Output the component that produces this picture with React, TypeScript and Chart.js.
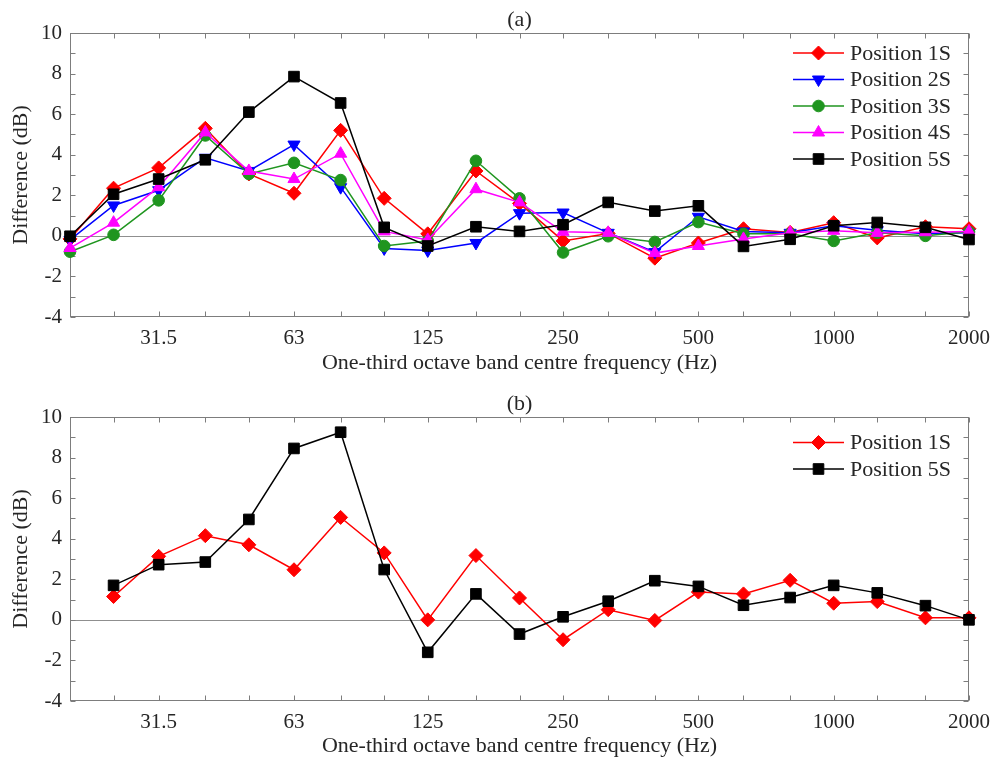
import React, { useEffect, useRef } from 'react';
import { Chart, registerables } from 'chart.js';
import { drawPoint } from 'chart.js/helpers';

Chart.register(...registerables);

// One-third octave band centre frequencies (Hz)
const bandsA = [20, 25, 31.5, 40, 50, 63, 80, 100, 125, 160, 200, 250, 315, 400, 500, 630, 800, 1000, 1250, 1600, 2000];
const bandsB = [25, 31.5, 40, 50, 63, 80, 100, 125, 160, 200, 250, 315, 400, 500, 630, 800, 1000, 1250, 1600, 2000];
const labelledFreqs = [31.5, 63, 125, 250, 500, 1000, 2000];
const yMin = -4;
const yMax = 10;

// Panel (a): level differences (dB) per source position
const pos1S_a = [-0.15, 2.35, 3.35, 5.3, 3.05, 2.1, 5.2, 1.85, 0.1, 3.2, 1.6, -0.25, 0.12, -1.1, -0.35, 0.35, 0.17, 0.65, -0.1, 0.45, 0.35];
const pos2S_a = [-0.2, 1.5, 2.25, 3.85, 3.2, 4.5, 2.4, -0.62, -0.72, -0.35, 1.12, 1.15, 0.15, -0.8, 0.94, 0.22, 0.15, 0.5, 0.28, 0.1, 0.15];
const pos3S_a = [-0.78, 0.05, 1.75, 4.95, 3.05, 3.6, 2.75, -0.5, -0.25, 3.7, 1.85, -0.82, -0.02, -0.3, 0.68, 0.1, 0.1, -0.25, 0.15, 0.0, 0.2];
const pos4S_a = [-0.6, 0.65, 2.4, 5.1, 3.2, 2.8, 4.05, 0.22, -0.2, 2.3, 1.65, 0.2, 0.15, -0.85, -0.5, -0.15, 0.15, 0.25, 0.15, 0.18, 0.22];
const pos5S_a = [-0.02, 2.05, 2.8, 3.75, 6.1, 7.85, 6.55, 0.42, -0.5, 0.45, 0.22, 0.55, 1.65, 1.22, 1.48, -0.52, -0.17, 0.5, 0.66, 0.42, -0.18];

// Panel (b)
const pos1S_b = [1.15, 3.13, 4.15, 3.7, 2.47, 5.05, 3.3, 0.0, 3.17, 1.08, -0.98, 0.5, -0.03, 1.37, 1.28, 1.95, 0.82, 0.9, 0.1, 0.1];
const pos5S_b = [1.7, 2.72, 2.85, 4.95, 8.45, 9.25, 2.48, -1.6, 1.28, -0.7, 0.15, 0.92, 1.93, 1.65, 0.72, 1.1, 1.7, 1.33, 0.7, 0.0];

const FONT = '"Liberation Serif", "Times New Roman", serif';
const TEXT = '#262626';
const AXIS = '#7d7d7d';

type Style = { label: string; color: string; pointStyle: string; rotation: number; radius: number };
const styles: Record<string, Style> = {
  p1: { label: 'Position 1S', color: '#ff0000', pointStyle: 'rectRot', rotation: 0, radius: 7 },
  p2: { label: 'Position 2S', color: '#0000ff', pointStyle: 'triangle', rotation: 180, radius: 7 },
  p3: { label: 'Position 3S', color: '#1f951f', pointStyle: 'circle', rotation: 0, radius: 5.8 },
  p4: { label: 'Position 4S', color: '#ff00ff', pointStyle: 'triangle', rotation: 0, radius: 7 },
  p5: { label: 'Position 5S', color: '#000000', pointStyle: 'rect', rotation: 0, radius: 7.5 },
};

function makeDataset(st: Style, bands: number[], values: number[], order: number) {
  return {
    label: st.label,
    data: bands.map((f, i) => ({ x: f, y: values[i] })),
    borderColor: st.color,
    backgroundColor: st.color,
    borderWidth: 1.5,
    pointStyle: st.pointStyle,
    rotation: st.rotation,
    pointRadius: st.radius,
    pointBackgroundColor: st.color,
    pointBorderColor: st.color,
    pointBorderWidth: 1,
    tension: 0,
    clip: false as const,
    order,
  };
}

// Box, inward tick marks, zero line, panel title and in-plot legend
const axesDecor = {
  id: 'axesDecor',
  beforeDatasetsDraw(chart: any, _args: any, opts: any) {
    const { ctx, chartArea: a, scales } = chart;
    const x = scales.x;
    const y = scales.y;
    ctx.save();
    ctx.lineWidth = 1;
    // zero reference line
    const y0 = Math.round(y.getPixelForValue(0)) + 0.5;
    ctx.strokeStyle = '#8f8f8f';
    ctx.beginPath();
    ctx.moveTo(a.left, y0);
    ctx.lineTo(a.right, y0);
    ctx.stroke();
    // frame
    ctx.strokeStyle = AXIS;
    const L = Math.round(a.left) + 0.5;
    const R = Math.round(a.right) - 0.5;
    const T = Math.round(a.top) + 0.5;
    const B = Math.round(a.bottom) - 0.5;
    ctx.strokeRect(L, T, R - L, B - T);
    const tl = 5;
    ctx.beginPath();
    for (const f of opts.bands) {
      const px = Math.round(x.getPixelForValue(f)) + 0.5;
      ctx.moveTo(px, B);
      ctx.lineTo(px, B - tl);
      ctx.moveTo(px, T);
      ctx.lineTo(px, T + tl);
    }
    for (let v = yMin; v <= yMax; v += 1) {
      const py = Math.round(y.getPixelForValue(v)) + 0.5;
      ctx.moveTo(L, py);
      ctx.lineTo(L + tl, py);
      ctx.moveTo(R, py);
      ctx.lineTo(R - tl, py);
    }
    ctx.stroke();
    ctx.restore();
  },
  afterDraw(chart: any, _args: any, opts: any) {
    const { ctx, chartArea: a } = chart;
    ctx.save();
    // panel title
    ctx.fillStyle = TEXT;
    ctx.font = `22px ${FONT}`;
    ctx.textAlign = 'center';
    ctx.textBaseline = 'middle';
    ctx.fillText(opts.title, (a.left + a.right) / 2, a.top - 13);
    // legend
    chart.data.datasets.forEach((ds: any, i: number) => {
      const cy = a.top + opts.legendTop + i * opts.legendGap;
      const x1 = a.right - 176;
      const x2 = a.right - 125;
      ctx.strokeStyle = ds.borderColor;
      ctx.lineWidth = 1.5;
      ctx.beginPath();
      ctx.moveTo(x1, cy);
      ctx.lineTo(x2, cy);
      ctx.stroke();
      ctx.fillStyle = ds.pointBackgroundColor;
      ctx.strokeStyle = ds.pointBorderColor;
      ctx.lineWidth = 1;
      drawPoint(ctx, { pointStyle: ds.pointStyle, rotation: ds.rotation, radius: ds.pointRadius, borderWidth: 1 }, (x1 + x2) / 2, cy);
      ctx.fillStyle = TEXT;
      ctx.font = `22px ${FONT}`;
      ctx.textAlign = 'left';
      ctx.textBaseline = 'middle';
      ctx.fillText(ds.label, a.right - 119, cy + 1);
    });
    ctx.restore();
  },
};

function buildConfig(datasets: any[], bands: number[], title: string, xHeight: number, xTitlePad: number, legendTop: number) {
  return {
    type: 'line' as const,
    data: { datasets },
    plugins: [axesDecor],
    options: {
      animation: false as const,
      responsive: false,
      devicePixelRatio: 1,
      layout: { padding: { top: 33, right: 25, left: 0, bottom: 0 } },
      plugins: {
        legend: { display: false },
        tooltip: { enabled: false },
        axesDecor: { bands, title, legendTop, legendGap: 26.5 },
      },
      scales: {
        x: {
          type: 'logarithmic' as const,
          min: 20,
          max: 2000,
          grid: { display: false, drawTicks: false },
          border: { display: false },
          afterBuildTicks: (axis: any) => {
            axis.ticks = bandsA.map((v) => ({ value: v }));
          },
          afterFit: (axis: any) => {
            axis.height = xHeight;
            axis.paddingLeft = 0;
            axis.paddingRight = 0;
          },
          ticks: {
            autoSkip: false,
            maxRotation: 0,
            padding: 9,
            color: TEXT,
            font: { family: FONT, size: 21 },
            callback: (v: number) => (labelledFreqs.includes(v) ? String(v) : ''),
          },
          title: {
            display: true,
            text: 'One-third octave band centre frequency (Hz)',
            color: TEXT,
            font: { family: FONT, size: 22 },
            padding: xTitlePad,
          },
        },
        y: {
          min: yMin,
          max: yMax,
          grid: { display: false, drawTicks: false },
          border: { display: false },
          afterFit: (axis: any) => {
            axis.width = 70;
            axis.paddingTop = 0;
            axis.paddingBottom = 0;
          },
          ticks: {
            stepSize: 2,
            padding: 8,
            color: TEXT,
            font: { family: FONT, size: 21 },
          },
          title: {
            display: true,
            text: 'Difference (dB)',
            color: TEXT,
            font: { family: FONT, size: 22 },
            padding: 8,
          },
        },
      },
    },
  };
}

function Panel(props: { height: number; top: number; make: () => any }) {
  const ref = useRef<HTMLCanvasElement>(null);
  useEffect(() => {
    if (!ref.current) return;
    const chart = new Chart(ref.current, props.make());
    return () => chart.destroy();
  }, []);
  return (
    <div style={{ position: 'absolute', left: 0, top: props.top, width: 994, height: props.height }}>
      <canvas ref={ref} width={994} height={props.height} style={{ width: 994, height: props.height, display: 'block' }} />
    </div>
  );
}

export default function App() {
  const makeA = () =>
    buildConfig(
      [
        makeDataset(styles.p1, bandsA, pos1S_a, 5),
        makeDataset(styles.p2, bandsA, pos2S_a, 4),
        makeDataset(styles.p3, bandsA, pos3S_a, 3),
        makeDataset(styles.p4, bandsA, pos4S_a, 2),
        makeDataset(styles.p5, bandsA, pos5S_a, 1),
      ],
      bandsA,
      '(a)',
      67,
      8,
      20
    );
  const makeB = () =>
    buildConfig(
      [makeDataset(styles.p1, bandsB, pos1S_b, 2), makeDataset(styles.p5, bandsB, pos5S_b, 1)],
      bandsA,
      '(b)',
      61,
      3,
      25.5
    );
  return (
    <div style={{ position: 'absolute', left: 0, top: 0, width: 994, height: 762, background: '#fff' }}>
      <Panel top={0} height={384} make={makeA} />
      <Panel top={384} height={378} make={makeB} />
    </div>
  );
}
